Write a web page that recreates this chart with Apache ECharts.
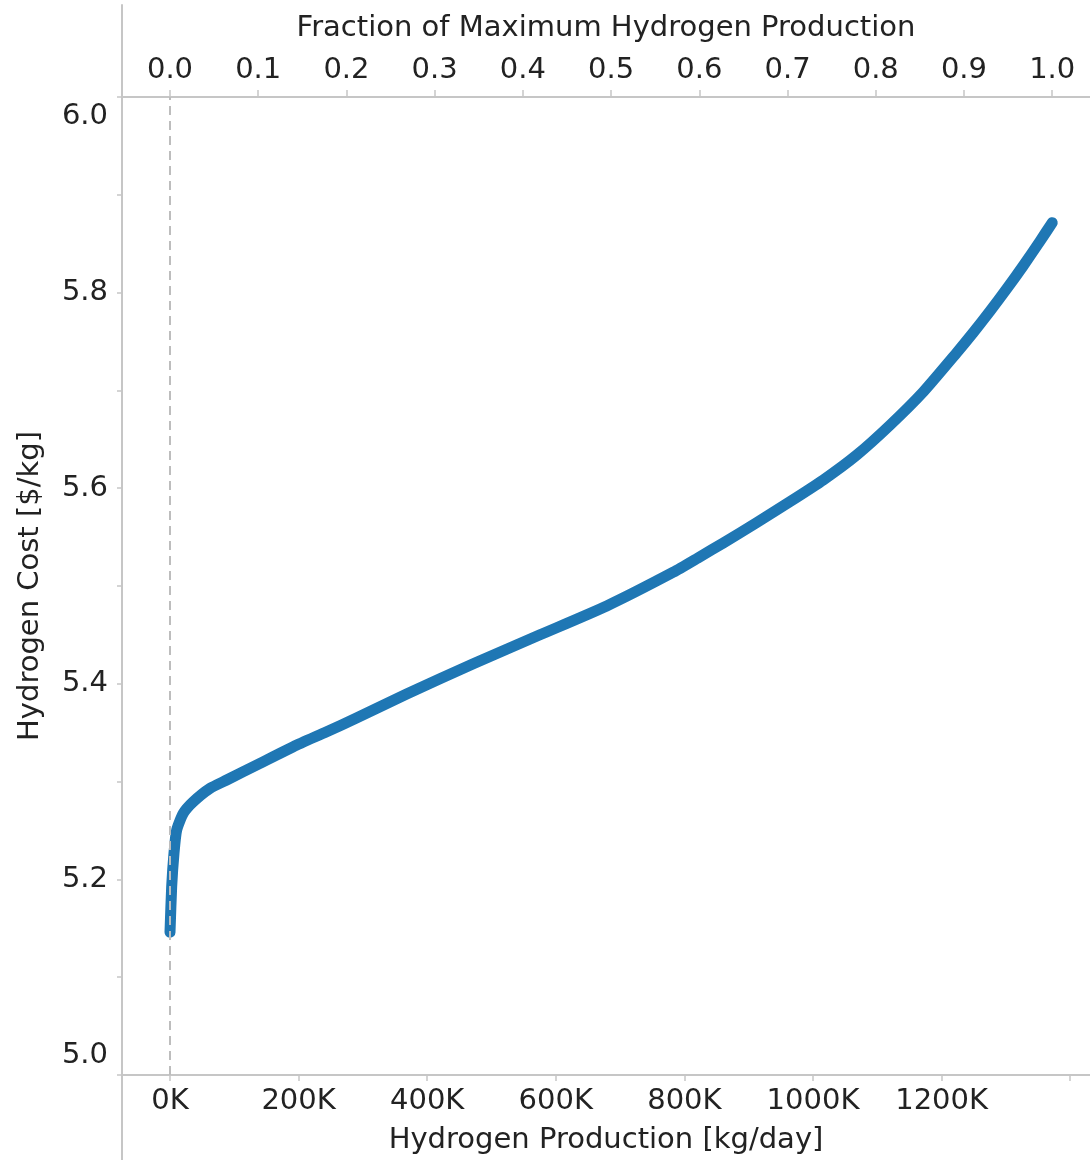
<!DOCTYPE html>
<html>
<head>
<meta charset="utf-8">
<script src="https://cdn.jsdelivr.net/npm/echarts@6/dist/echarts.min.js"></script>
<style>
html,body{margin:0;padding:0;background:#fff;}
#chart{width:1090px;height:1160px;}
</style>
</head>
<body>
<div id="chart"></div>
<script>
// Hydrogen production [kg/day]
const production = [0, 2600, 6200, 10400, 20700, 36200, 62200, 88200, 140000, 191800, 243700, 290000,
  368100, 471700, 575400, 679200, 782700, 824300, 860500, 912400, 964200, 1016000, 1068000,
  1119800, 1171500, 1223500, 1249000, 1275000, 1301000, 1327000, 1353000, 1372000];
// Hydrogen cost [$/kg]
const cost = [5.146, 5.1925, 5.2267, 5.2505, 5.2676, 5.2794, 5.2931, 5.3016, 5.3187, 5.3357, 5.3510, 5.3650,
  5.3895, 5.4206, 5.4501, 5.4796, 5.5141, 5.5300, 5.5440, 5.5648, 5.5862, 5.6084, 5.6339,
  5.6645, 5.6985, 5.7385, 5.7589, 5.7807, 5.8036, 5.8275, 5.8525, 5.8715];

const productionTicks = [0, 200000, 400000, 600000, 800000, 1000000, 1200000, 1400000];
const productionLabels = [0, 200000, 400000, 600000, 800000, 1000000, 1200000];
const fractionTicks = [0, 0.1, 0.2, 0.3, 0.4, 0.5, 0.6, 0.7, 0.8, 0.9, 1.0];
const costTicks = [5.0, 5.1, 5.2, 5.3, 5.4, 5.5, 5.6, 5.7, 5.8, 5.9, 6.0];
const costLabels = [5.0, 5.2, 5.4, 5.6, 5.8, 6.0];

const xMin = -74650, xMax = 1430800;
const maxProduction = production[production.length - 1];

const FONT = 'DejaVu Sans';
const FS = 29;
const TXT = '#222';
const AX = '#c6c6c6';

const chart = echarts.init(document.getElementById('chart'), null, {renderer: 'canvas'});
const tf = {fontFamily: FONT, fontSize: FS, color: TXT};

chart.setOption({
  animation: false,
  backgroundColor: '#fff',
  grid: [
    {left: 122, right: 0, top: 97, bottom: 85},
    {left: 122, width: 1, top: 5, bottom: 0}
  ],
  xAxis: [
    {
      type: 'value', gridIndex: 0, position: 'bottom', min: xMin, max: xMax,
      name: 'Hydrogen Production [kg/day]', nameLocation: 'middle', nameGap: 51,
      nameTextStyle: tf,
      axisLine: {show: true, onZero: false, lineStyle: {color: AX, width: 2}},
      axisTick: {show: true, length: 6, lineStyle: {color: AX, width: 1.5}, customValues: productionTicks},
      axisLabel: Object.assign({margin: 12, customValues: productionLabels,
        formatter: v => (v / 1000) + 'K'}, tf),
      splitLine: {show: false}
    },
    {
      type: 'value', gridIndex: 0, position: 'top',
      min: xMin / maxProduction, max: xMax / maxProduction,
      name: 'Fraction of Maximum Hydrogen Production', nameLocation: 'middle', nameGap: 54,
      nameTextStyle: tf,
      axisLine: {show: true, onZero: false, lineStyle: {color: AX, width: 2}},
      axisTick: {show: true, length: 7, lineStyle: {color: AX, width: 1.5}, customValues: fractionTicks},
      axisLabel: Object.assign({margin: 12, customValues: fractionTicks,
        formatter: v => v.toFixed(1)}, tf),
      splitLine: {show: false}
    },
    {type: 'value', gridIndex: 1, show: false}
  ],
  yAxis: [
    {
      type: 'value', gridIndex: 0, min: 5.0, max: 6.0,
      name: 'Hydrogen Cost [$/kg]', nameLocation: 'middle', nameGap: 77,
      nameTextStyle: tf,
      axisLine: {show: true, onZero: false, lineStyle: {color: AX, width: 2}},
      axisTick: {show: true, length: 5, lineStyle: {color: AX, width: 1.5}, customValues: costTicks},
      axisLabel: {
        margin: 14, customValues: costLabels,
        formatter: v => {
          const s = v.toFixed(1);
          if (Math.abs(v - 6) < 1e-9) return '{t|' + s + '}';
          if (Math.abs(v - 5) < 1e-9) return '{b|' + s + '}';
          return '{n|' + s + '}';
        },
        rich: {
          t: Object.assign({padding: [38, 0, 0, 0]}, tf),
          b: Object.assign({padding: [0, 0, 40, 0]}, tf),
          n: Object.assign({}, tf)
        }
      },
      splitLine: {show: false}
    },
    {
      type: 'value', gridIndex: 1, min: 0, max: 1,
      axisLine: {show: true, onZero: false, lineStyle: {color: AX, width: 2}},
      axisTick: {show: false}, axisLabel: {show: false}, splitLine: {show: false}
    }
  ],
  series: [
    {
      type: 'line', xAxisIndex: 0, yAxisIndex: 0, data: [], z: 1, silent: true,
      markLine: {
        silent: true, symbol: ['none', 'none'], label: {show: false},
        lineStyle: {color: '#bdbdbd', type: [9, 6], width: 2},
        data: [{xAxis: 0}]
      }
    },
    {
      type: 'line', xAxisIndex: 0, yAxisIndex: 0, z: 3,
      data: production.map((x, i) => [x, cost[i]]),
      showSymbol: false, smooth: 0.2,
      lineStyle: {color: '#1f77b4', width: 11, cap: 'round', join: 'round'},
      itemStyle: {color: '#1f77b4'}
    }
  ]
});
</script>
</body>
</html>
